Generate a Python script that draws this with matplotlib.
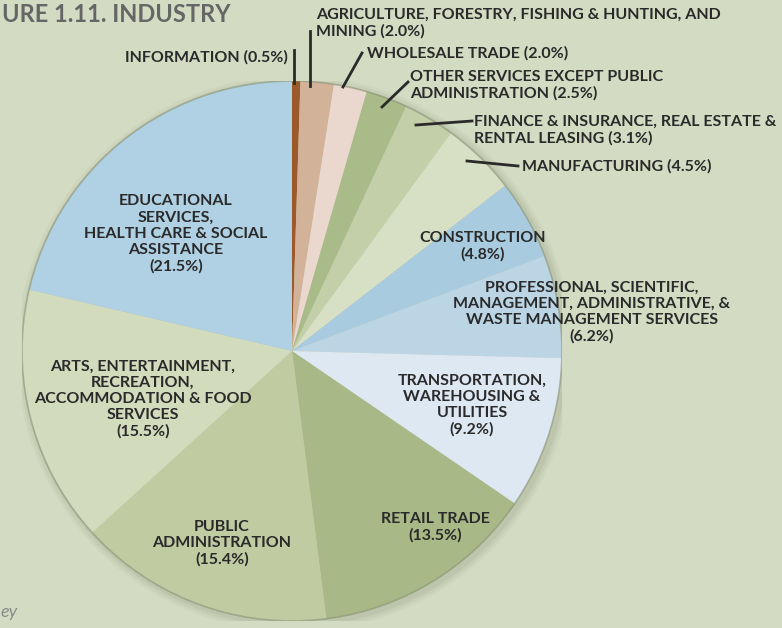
import matplotlib.pyplot as plt
from matplotlib.patches import Circle

# Industry shares (%), clockwise from 12 o'clock
industries = ['Information', 'Agriculture & Mining', 'Wholesale Trade', 'Other Services',
              'Finance & Real Estate', 'Manufacturing', 'Construction', 'Professional',
              'Transportation', 'Retail Trade', 'Public Administration', 'Arts & Food',
              'Educational & Health']
shares = [0.5, 2.0, 2.0, 2.5, 3.1, 4.5, 4.8, 6.2, 9.2, 13.5, 15.4, 15.5, 21.5]
colors = ['#9c5a2a', '#d2b298', '#ead8ce', '#a9bb88', '#c3cfa8', '#d7dfc4', '#a8cbe0',
          '#bcd5e5', '#dde8f2', '#a8b886', '#c1cba2', '#d3dbbd', '#b0d0e3']

# labels drawn inside the pie: text, centre x/y in pixels from top-left
inner_labels = [
    ('EDUCATIONAL\nSERVICES,\nHEALTH CARE & SOCIAL\nASSISTANCE\n(21.5%)', 176, 234),
    ('ARTS, ENTERTAINMENT,\nRECREATION,\nACCOMMODATION & FOOD\nSERVICES\n(15.5%)', 143, 399),
    ('PUBLIC\nADMINISTRATION\n(15.4%)', 222, 543),
    ('RETAIL TRADE\n(13.5%)', 435, 527),
    ('TRANSPORTATION,\nWAREHOUSING &\nUTILITIES\n(9.2%)', 472, 405),
    ('PROFESSIONAL, SCIENTIFIC,\nMANAGEMENT, ADMINISTRATIVE, &\nWASTE MANAGEMENT SERVICES\n(6.2%)', 592, 312),
    ('CONSTRUCTION\n(4.8%)', 483, 246),
]

# labels outside with leader lines: text, text x/y, alignment, line start, line end
outer_labels = [
    ('INFORMATION (0.5%)', 288, 57, 'right', (294, 50), (294, 83)),
    ('AGRICULTURE, FORESTRY, FISHING & HUNTING, AND\nMINING (2.0%)', 316, 23, 'left', (310, 31), (310, 86)),
    ('WHOLESALE TRADE (2.0%)', 367, 53, 'left', (362, 53), (343, 87)),
    ('OTHER SERVICES EXCEPT PUBLIC\nADMINISTRATION (2.5%)', 410, 85, 'left', (408, 82), (382, 107)),
    ('FINANCE & INSURANCE, REAL ESTATE &\nRENTAL LEASING (3.1%)', 474, 130, 'left', (472, 121), (416, 125)),
    ('MANUFACTURING (4.5%)', 522, 166, 'left', (518, 166), (467, 161)),
]

W, H = 782, 628
bg = '#d3dcc3'
fig = plt.figure(figsize=(W / 100, H / 100), dpi=100, facecolor=bg)

cx, cy, R = 292, 351, 270
ax = fig.add_axes([(cx - R) / W, 1 - (cy + R) / H, 2 * R / W, 2 * R / H])
ax.set_facecolor(bg)

# soft shadow under the pie
for k, a in [(1.03, 0.05), (1.02, 0.07), (1.01, 0.09)]:
    ax.add_patch(Circle((0.01, -0.01), k, color='#6b7358', alpha=a, lw=0, zorder=0))

ax.pie(shares, colors=colors, startangle=90, counterclock=False, radius=1,
       wedgeprops=dict(linewidth=0), normalize=True)
ax.add_patch(Circle((0, 0), 1, fill=False, ec='#8a9275', lw=1.2, alpha=0.6, zorder=5))
ax.set_xlim(-1, 1)
ax.set_ylim(-1, 1)
ax.axis('off')

fnt = dict(family='Lato', fontweight='bold', color='#2a2a2a', fontsize=11.5)


def to_data(px, py):
    return (px - cx) / R, (cy - py) / R


for txt, px, py in inner_labels:
    x, y = to_data(px, py)
    ax.text(x, y, txt, ha='center', va='center', linespacing=1.2, clip_on=False,
            zorder=6, **fnt)

for txt, px, py, ha, p0, p1 in outer_labels:
    x, y = to_data(px, py)
    ax.text(x, y, txt, ha=ha, va='center', linespacing=1.2, clip_on=False,
            zorder=6, **fnt)
    x0, y0 = to_data(*p0)
    x1, y1 = to_data(*p1)
    ax.plot([x0, x1], [y0, y1], color='#2a2a2a', lw=2, clip_on=False, zorder=6)

fig.text(2 / W, 1 - 15 / H, 'URE 1.11. INDUSTRY', ha='left', va='center',
         family='Lato', fontweight='bold', fontsize=17, color='#666666')
fig.text(0 / W, 1 - 612 / H, 'ey', ha='left', va='center', family='Lato',
         style='italic', fontsize=13, color='#8a8a8a')

fig.savefig('out.png', dpi=100, facecolor=bg)
